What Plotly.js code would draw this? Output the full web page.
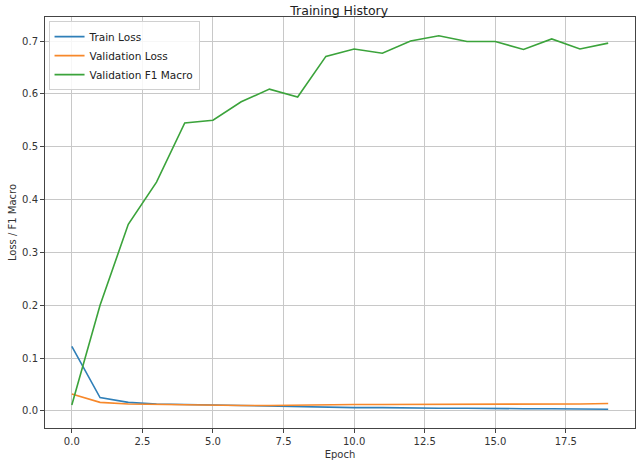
<!DOCTYPE html>
<html>
<head>
<meta charset="utf-8">
<script src="https://cdn.plot.ly/plotly-3.0.1.min.js"></script>
<style>
  html, body { margin: 0; padding: 0; background: #fff; }
  #graph { width: 640px; height: 463px; }
</style>
</head>
<body>
<div id="graph"></div>
<script>
// epochs 0..19
const epochs = [0, 1, 2, 3, 4, 5, 6, 7, 8, 9, 10, 11, 12, 13, 14, 15, 16, 17, 18, 19];

// valores
const trainLoss = [0.122, 0.025, 0.016, 0.013, 0.012, 0.011, 0.010, 0.008, 0.007, 0.007,
                   0.006, 0.006, 0.005, 0.005, 0.005, 0.004, 0.004, 0.004, 0.003, 0.003];
const valLoss = [0.032, 0.016, 0.013, 0.012, 0.011, 0.011, 0.010, 0.010, 0.011, 0.011,
                 0.012, 0.012, 0.012, 0.012, 0.013, 0.013, 0.013, 0.013, 0.013, 0.014];
const valF1 = [0.011, 0.200, 0.353, 0.433, 0.545, 0.550, 0.585, 0.609, 0.594, 0.671,
               0.685, 0.677, 0.700, 0.710, 0.699, 0.699, 0.684, 0.704, 0.685, 0.696];

const seriesNames = ["Train Loss", "Validation Loss", "Validation F1 Macro"];
const seriesColors = ["#2f7fb8", "#f7882a", "#3ba33b"];

const xTicks = [0, 2.5, 5, 7.5, 10, 12.5, 15, 17.5];
const xTickText = ["0.0", "2.5", "5.0", "7.5", "10.0", "12.5", "15.0", "17.5"];
const yTicks = [0, 0.1, 0.2, 0.3, 0.4, 0.5, 0.6, 0.7];
const yTickText = ["0.0", "0.1", "0.2", "0.3", "0.4", "0.5", "0.6", "0.7"];

const allValues = [trainLoss, valLoss, valF1];

const plotData = allValues.map((vals, i) => ({
    x: epochs,
    y: vals,
    name: seriesNames[i],
    mode: 'lines',
    type: 'scatter',
    line: { color: seriesColors[i], width: 1.6 }
}));

const fontFamily = '"DejaVu Sans", sans-serif';

const layout = {
    width: 640,
    height: 463,
    margin: { l: 45, r: 5, t: 17, b: 35 },
    paper_bgcolor: '#ffffff',
    plot_bgcolor: '#ffffff',
    font: { family: fontFamily, size: 10, color: '#333' },
    title: {
        text: 'Training History',
        font: { family: fontFamily, size: 12.5, color: '#222' },
        x: 0.53, xanchor: 'center',
        y: 0.987, yanchor: 'top'
    },
    xaxis: {
        title: { text: 'Epoch', font: { size: 10, color: '#333' }, standoff: 4 },
        range: [-0.95, 19.95],
        tickvals: xTicks,
        ticktext: xTickText,
        ticks: 'outside', ticklen: 4, tickcolor: '#444',
        showgrid: true, gridcolor: '#c8c8c8', gridwidth: 1,
        showline: true, linecolor: '#444', linewidth: 1, mirror: true,
        zeroline: false
    },
    yaxis: {
        title: { text: 'Loss / F1 Macro', font: { size: 10, color: '#333' }, standoff: 3 },
        range: [-0.0325, 0.7455],
        tickvals: yTicks,
        ticktext: yTickText,
        ticks: 'outside', ticklen: 4, tickcolor: '#444',
        showgrid: true, gridcolor: '#c8c8c8', gridwidth: 1,
        showline: true, linecolor: '#444', linewidth: 1, mirror: true,
        zeroline: false
    },
    legend: {
        x: 0.006, y: 0.99, xanchor: 'left', yanchor: 'top',
        bgcolor: 'rgba(255,255,255,0.85)',
        bordercolor: '#d0d0d0', borderwidth: 1,
        font: { family: fontFamily, size: 10.5, color: '#222' },
        itemwidth: 30,
        tracegroupgap: 0
    },
    showlegend: true
};

Plotly.newPlot("graph", plotData, layout, { displayModeBar: false, staticPlot: true });
</script>
</body>
</html>
